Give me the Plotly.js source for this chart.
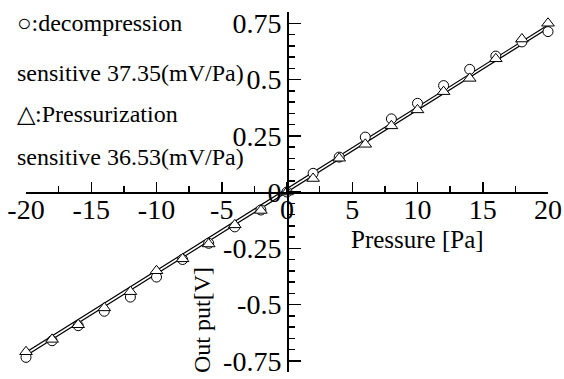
<!DOCTYPE html>
<html>
<head>
<meta charset="utf-8">
<script src="https://cdn.plot.ly/plotly-3.0.1.min.js"></script>
</head>
<body style="margin:0">
<div id="chart"></div>
<script>
// Data
var pressure = [-20,-18,-16,-14,-12,-10,-8,-6,-4,-2,0,2,4,6,8,10,12,14,16,18,20];
var decompression = [-0.735,-0.661,-0.594,-0.530,-0.467,-0.378,-0.300,-0.228,-0.155,-0.080,0.0,0.083,0.155,0.244,0.325,0.394,0.473,0.545,0.604,0.667,0.713];
var pressurization = [-0.710,-0.655,-0.590,-0.515,-0.443,-0.350,-0.297,-0.231,-0.146,-0.082,0.0,0.060,0.150,0.212,0.294,0.365,0.446,0.505,0.592,0.680,0.750];
// fitted straight lines (end points)
var fitX = [-20, 20];
var fitDecompression = [-0.728, 0.728];
var fitPressurization = [-0.712, 0.742];

var xTickVals = [-20,-15,-10,-5,0,5,10,15,20];
var xTickText = ['-20','-15','-10','-5','0','5','10','15','20'];
var yTickVals = [-0.75,-0.5,-0.25,0,0.25,0.5,0.75];
var yTickText = ['-0.75','-0.5','-0.25','0','0.25','0.5','0.75'];

var noteTexts = ['\u25CB:decompression','sensitive 37.35(mV/Pa)','\u25B3:Pressurization','sensitive 36.53(mV/Pa)'];
var noteY = [23, 73, 114, 157];

(function(){
  var W = 564, H = 379, ML = 26, MR = 16, MT = 12, MB = 7;
  function toPx(x){ return (x - ML) / (W - ML - MR); }
  function toPy(y){ return 1 - (y - MT) / (H - MT - MB); }
  var fam = 'Liberation Serif';

  var traces = [
    {x: fitX, y: fitDecompression, mode: 'lines', line: {color: '#000', width: 1.2}, cliponaxis: false, hoverinfo: 'skip'},
    {x: fitX, y: fitPressurization, mode: 'lines', line: {color: '#000', width: 1.2}, cliponaxis: false, hoverinfo: 'skip'},
    {x: pressure, y: decompression, mode: 'markers', cliponaxis: false,
     marker: {symbol: 'circle', size: 10, color: '#fff', line: {color: '#000', width: 1}}},
    {x: pressure, y: pressurization, mode: 'markers', cliponaxis: false,
     marker: {symbol: 'triangle-up', size: 11, color: '#fff', line: {color: '#000', width: 1}}}
  ];

  var annotations = noteTexts.map(function(t, i){
    return {text: t, xref: 'paper', yref: 'paper', x: toPx(15), y: toPy(noteY[i]),
            xanchor: 'left', yanchor: 'middle', showarrow: false,
            font: {family: fam, size: 24, color: '#000'}};
  });
  annotations.push({text: 'Pressure [Pa]', xref: 'paper', yref: 'paper', x: toPx(417), y: toPy(239),
    xanchor: 'center', yanchor: 'middle', showarrow: false, font: {family: fam, size: 25, color: '#000'}});
  annotations.push({text: 'Out put[V]', xref: 'paper', yref: 'paper', x: toPx(202), y: toPy(320),
    xanchor: 'center', yanchor: 'middle', showarrow: false, textangle: -90, font: {family: fam, size: 24, color: '#000'}});

  var layout = {
    width: W, height: H,
    margin: {l: ML, r: MR, t: MT, b: MB, pad: 0},
    paper_bgcolor: '#fff', plot_bgcolor: '#fff',
    showlegend: false,
    font: {family: fam, size: 24, color: '#000'},
    xaxis: {
      range: [-20, 20], domain: [0, 1], anchor: 'free', position: 0.5,
      showline: true, linecolor: '#000', linewidth: 1.5,
      ticks: 'inside', ticklen: 10, tickwidth: 1.5, tickcolor: '#000',
      tickmode: 'array', tickvals: xTickVals, ticktext: xTickText,
      minor: {ticks: 'inside', ticklen: 6, tickwidth: 1.5, tickcolor: '#000', dtick: 2.5, tick0: 0, showgrid: false},
      showgrid: false, zeroline: false, ticklabelstandoff: -8,
      tickfont: {family: fam, size: 28, color: '#000'}
    },
    yaxis: {
      range: [-0.8, 0.8], domain: [0, 1], anchor: 'free', position: 0.5, side: 'left',
      showline: true, linecolor: '#000', linewidth: 1.5,
      ticks: 'inside', ticklen: 12, tickwidth: 1.5, tickcolor: '#000',
      tickmode: 'array', tickvals: yTickVals, ticktext: yTickText,
      minor: {ticks: 'inside', ticklen: 6, tickwidth: 1.5, tickcolor: '#000', dtick: 0.05, tick0: 0, showgrid: false},
      showgrid: false, zeroline: false,
      tickfont: {family: fam, size: 28, color: '#000'}
    },
    annotations: annotations
  };

  Plotly.newPlot('chart', traces, layout, {staticPlot: true});
})();
</script>
</body>
</html>
